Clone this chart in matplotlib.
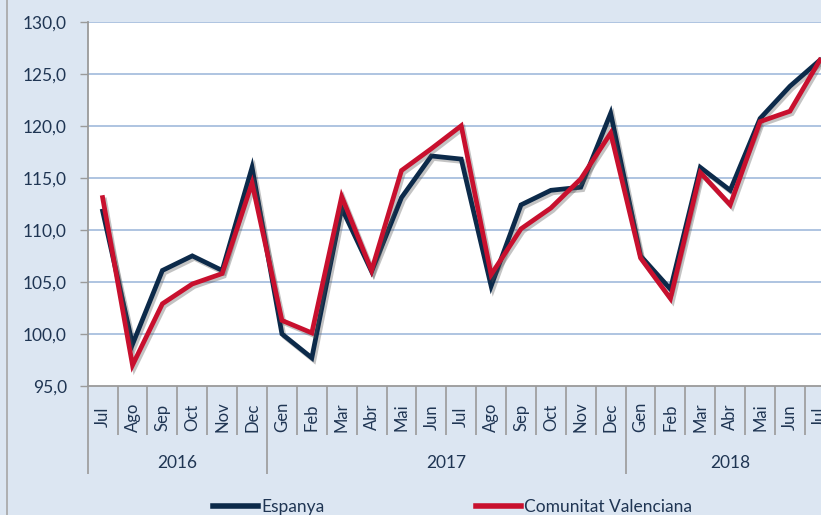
import matplotlib

matplotlib.use("Agg")
import matplotlib.pyplot as plt
import matplotlib.patheffects as path_effects
from matplotlib.lines import Line2D
from matplotlib.ticker import FixedLocator, FuncFormatter


MONTHS = [
    "Jul", "Ago", "Sep", "Oct", "Nov", "Dec",
    "Gen", "Feb", "Mar", "Abr", "Mai", "Jun", "Jul", "Ago", "Sep", "Oct", "Nov", "Dec",
    "Gen", "Feb", "Mar", "Abr", "Mai", "Jun", "Jul",
]
YEARS = ["2016", "2017", "2018"]
YEAR_MONTH_COUNTS = [6, 12, 7]

ESPANYA = [
    111.8, 99.0, 106.1, 107.5, 106.1, 116.0,
    100.0, 97.7, 112.1, 106.0, 113.1, 117.1, 116.8, 104.6, 112.4, 113.8, 114.1, 121.2,
    107.5, 104.3, 116.0, 113.8, 120.7, 123.8, 126.3,
]
VALENCIANA = [
    113.1, 97.0, 102.9, 104.8, 105.8, 114.5,
    101.3, 100.1, 113.2, 106.1, 115.7, 117.8, 120.0, 105.7, 110.1, 112.1, 114.9, 119.3,
    107.3, 103.4, 115.5, 112.4, 120.4, 121.4, 126.3,
]

SERIES = [
    ("Espanya", ESPANYA, "#0c2a4a"),
    ("Comunitat Valenciana", VALENCIANA, "#c8102e"),
]

BACKGROUND = "#dce6f2"
TEXT_COLOR = "#1f3553"
AXIS_GRAY = "#9a9a9a"
GRID_BLUE = "#98b4d8"

plt.rcParams["font.family"] = ["Lato", "DejaVu Sans"]


def decimal_comma(value, position):
    return f"{value:.1f}".replace(".", ",")


def main():
    figure = plt.figure(figsize=(8.21, 5.15), dpi=100, facecolor=BACKGROUND)
    # plot area runs past the right edge, as in the cropped original
    axis = figure.add_axes([0.1068, 0.2505, 0.910, 0.7074])
    axis.set_facecolor("white")

    x_values = list(range(len(MONTHS)))
    shadow = [
        path_effects.SimpleLineShadow(offset=(1.5, -1.8), shadow_color="#555555", alpha=0.35),
        path_effects.Normal(),
    ]
    for name, values, color in SERIES:
        axis.plot(
            x_values,
            values,
            color=color,
            linewidth=3.4,
            solid_joinstyle="miter",
            label=name,
            path_effects=shadow,
            zorder=3,
        )

    axis.set_xlim(-0.5, len(MONTHS) - 0.5)
    axis.set_ylim(95, 130)
    axis.set_yticks(range(95, 131, 5))
    axis.yaxis.set_major_formatter(FuncFormatter(decimal_comma))
    axis.tick_params(
        axis="y",
        direction="out",
        length=6,
        width=1,
        color=AXIS_GRAY,
        pad=9,
        labelsize=12.5,
        labelcolor=TEXT_COLOR,
    )
    for value in range(100, 131, 5):
        axis.axhline(value, color=GRID_BLUE, linewidth=1.1, zorder=1)

    for side in ["top", "right"]:
        axis.spines[side].set_visible(False)
    for side in ["left", "bottom"]:
        axis.spines[side].set_color(AXIS_GRAY)
        axis.spines[side].set_linewidth(1.3)

    month_bounds = [i - 0.5 for i in range(len(MONTHS) + 1)]
    year_bounds = [-0.5]
    for count in YEAR_MONTH_COUNTS:
        year_bounds.append(year_bounds[-1] + count)

    axis.xaxis.set_major_locator(FixedLocator(year_bounds[:-1]))
    axis.xaxis.set_minor_locator(FixedLocator(month_bounds))
    axis.xaxis.set_major_formatter(FuncFormatter(lambda v, p: ""))
    axis.tick_params(axis="x", which="major", direction="out", length=63, width=1.2, color=AXIS_GRAY)
    axis.tick_params(axis="x", which="minor", direction="out", length=35, width=1.2, color=AXIS_GRAY)

    x_transform = axis.get_xaxis_transform()
    for index, month in enumerate(MONTHS):
        axis.text(
            index, -0.085, month,
            transform=x_transform,
            rotation=90,
            ha="center",
            va="center",
            fontsize=12,
            color=TEXT_COLOR,
            clip_on=False,
        )
    for year, start, end in zip(YEARS, year_bounds[:-1], year_bounds[1:]):
        axis.text(
            (start + end) / 2, -0.212, year,
            transform=x_transform,
            ha="center",
            va="center",
            fontsize=12.5,
            color=TEXT_COLOR,
            clip_on=False,
        )

    figure.add_artist(
        Line2D([7 / 821, 7 / 821], [0, 1], transform=figure.transFigure, color="#a6a6a6", linewidth=1.2)
    )

    handles, labels = axis.get_legend_handles_labels()
    legend_handles = [Line2D([], [], color=h.get_color(), linewidth=4) for h in handles]
    figure.legend(
        legend_handles,
        labels,
        loc="center left",
        bbox_to_anchor=(0.259, 0.016),
        ncol=2,
        frameon=False,
        fontsize=12.5,
        labelcolor=TEXT_COLOR,
        handlelength=2.6,
        handletextpad=0.2,
        columnspacing=8.7,
        borderpad=0,
        borderaxespad=0,
    )

    figure.savefig("out.png", dpi=100, facecolor=BACKGROUND)
    plt.close(figure)


if __name__ == "__main__":
    main()
